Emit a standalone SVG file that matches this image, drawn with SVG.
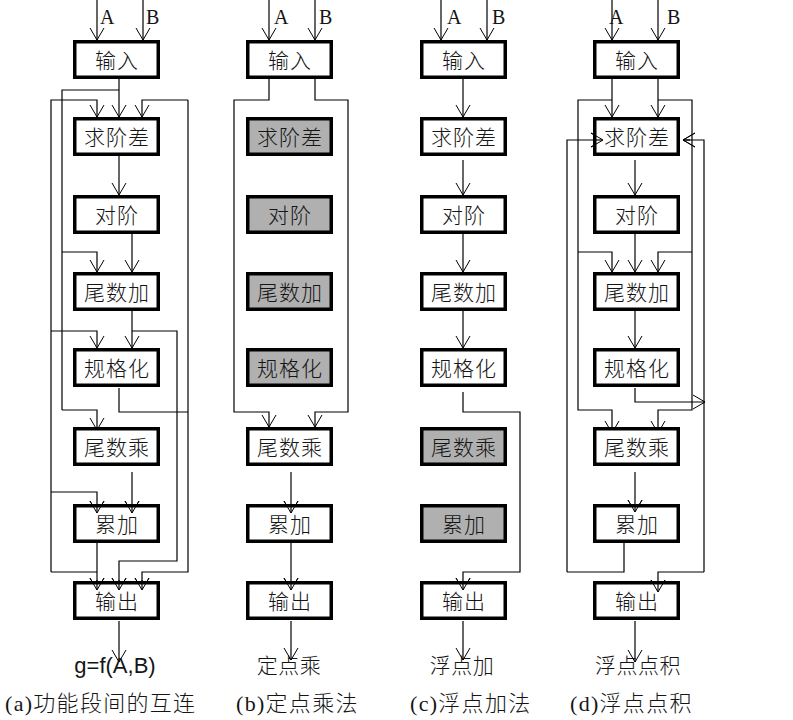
<svg xmlns="http://www.w3.org/2000/svg" width="793" height="720" viewBox="0 0 793 720">
<defs>
<marker id="ar" viewBox="-14 -9 16 18" markerWidth="16" markerHeight="18" refX="0" refY="0" orient="auto" markerUnits="userSpaceOnUse">
<path d="M-12,-7 L0,0 L-12,7" fill="none" stroke="#000" stroke-width="1"/>
</marker>
<style>
.box{fill:#fff;stroke:#000;stroke-width:3.5}
.g{fill:#b0b0b0}
.t{font-family:"Noto Sans CJK SC","Noto Sans",sans-serif;font-size:21px;font-weight:300;fill:#151515;text-anchor:middle;letter-spacing:1px}
.ab{font-family:"Liberation Serif",serif;font-size:20px;fill:#151515}
.cap{font-family:"Liberation Serif","Noto Sans CJK SC",serif;font-size:22px;font-weight:300;fill:#151515;letter-spacing:1.3px}
.out{font-family:"Noto Sans CJK SC",sans-serif;font-size:21px;font-weight:300;fill:#151515;text-anchor:middle;letter-spacing:0.5px}
.w{fill:none;stroke:#000;stroke-width:1.2}
.a{fill:none;stroke:#000;stroke-width:1.2;marker-end:url(#ar)}
</style>
</defs>
<rect width="793" height="720" fill="#fff"/>

<g id="connectors">
<!-- column a -->
<path class="a" d="M97,0 V40"/>
<path class="a" d="M143,0 V40"/>
<path class="a" d="M119,78 V117"/>
<path class="w" d="M119,90 H62 V410"/>
<path class="a" d="M62,410 H97 V430"/>
<path class="a" d="M62,252 H97 V272"/>
<path class="a" d="M51,572 V100 H97 V117"/>
<path class="w" d="M51,572 H97"/>
<path class="a" d="M51,331 H97 V348"/>
<path class="a" d="M51,492 H97 V513"/>
<path class="a" d="M188,100 H142 V117"/>
<path class="a" d="M188,100 V572 H142 V590"/>
<path class="w" d="M119,388 V412 H188"/>
<path class="a" d="M119,156 V195"/>
<path class="a" d="M132,233 V272"/>
<path class="a" d="M132,311 V348"/>
<path class="a" d="M132,331 H177 V561 H119 V590"/>
<path class="a" d="M132,472 V513"/>
<path class="a" d="M97,543 V590"/>
<path class="a" d="M119,621 V662"/>
<!-- column b -->
<path class="a" d="M269,0 V40"/>
<path class="a" d="M315,0 V40"/>
<path class="a" d="M269,78 V100 H234 V412 H269 V427"/>
<path class="a" d="M315,78 V100 H348 V412 H315 V427"/>
<path class="a" d="M291,472 V513"/>
<path class="a" d="M291,543 V590"/>
<path class="a" d="M291,621 V660"/>
<!-- column c -->
<path class="a" d="M441,0 V40"/>
<path class="a" d="M487,0 V40"/>
<path class="a" d="M463,78 V117"/>
<path class="a" d="M463,160 V195"/>
<path class="a" d="M463,233 V272"/>
<path class="a" d="M463,311 V348"/>
<path class="a" d="M463,392 V412 H520 V572 H463 V590"/>
<path class="a" d="M463,621 V660"/>
<!-- column d -->
<path class="a" d="M612,0 V40"/>
<path class="a" d="M658,0 V40"/>
<path class="a" d="M612,78 V117"/>
<path class="a" d="M658,78 V117"/>
<path class="a" d="M612,100 H578 V410 H612 V433"/>
<path class="a" d="M578,252 H612 V272"/>
<path class="a" d="M658,100 H692 V410 H658 V433"/>
<path class="a" d="M692,252 H658 V272"/>
<path class="a" d="M567,572 V140 H603"/>
<path class="a" d="M704,572 V140 H683"/>
<path class="w" d="M624,543 V572 H567"/>
<path class="a" d="M704,572 H658 V592"/>
<path class="a" d="M635,388 V402 H705"/>
<path class="a" d="M635,160 V195"/>
<path class="a" d="M635,233 V272"/>
<path class="a" d="M635,311 V348"/>
<path class="a" d="M635,472 V512"/>
<path class="a" d="M635,621 V662"/>
</g>

<g id="labels-ab">
<text class="ab" x="100" y="24">A</text><text class="ab" x="146" y="24">B</text>
<text class="ab" x="274" y="24">A</text><text class="ab" x="319" y="24">B</text>
<text class="ab" x="447" y="24">A</text><text class="ab" x="492" y="24">B</text>
<text class="ab" x="609" y="24">A</text><text class="ab" x="667" y="24">B</text>
</g>

<!-- column a nodes -->
<g id="a-in"><rect class="box" x="74.75" y="41.75" width="83.5" height="35.5"/><text class="t" x="117" y="67.5">输入</text></g>
<g id="a-exp"><rect class="box" x="74.75" y="118.75" width="83.5" height="35.5"/><text class="t" x="117" y="144.5">求阶差</text></g>
<g id="a-align"><rect class="box" x="74.75" y="196.75" width="83.5" height="35.5"/><text class="t" x="117" y="222.5">对阶</text></g>
<g id="a-add"><rect class="box" x="74.75" y="273.75" width="83.5" height="35.5"/><text class="t" x="117" y="299.5">尾数加</text></g>
<g id="a-norm"><rect class="box" x="74.75" y="349.75" width="83.5" height="35.5"/><text class="t" x="117" y="375.5">规格化</text></g>
<g id="a-mul"><rect class="box" x="74.75" y="428.75" width="83.5" height="35.5"/><text class="t" x="117" y="454.5">尾数乘</text></g>
<g id="a-acc"><rect class="box" x="74.75" y="505.75" width="83.5" height="35.5"/><text class="t" x="117" y="531.5">累加</text></g>
<g id="a-out"><rect class="box" x="74.75" y="582.75" width="83.5" height="35.5"/><text class="t" x="117" y="608.5">输出</text></g>
<text x="115" y="673" style="font-family:'Liberation Sans',sans-serif;font-size:22px;fill:#151515;text-anchor:middle">g=f(A,B)</text>
<text class="cap" x="5" y="711">(a)功能段间的互连</text>

<!-- column b nodes -->
<g id="b-in"><rect class="box" x="247.75" y="41.75" width="83.5" height="35.5"/><text class="t" x="290" y="67.5">输入</text></g>
<g id="b-exp"><rect class="box g" x="247.75" y="118.75" width="83.5" height="35.5"/><text class="t" x="290" y="144.5">求阶差</text></g>
<g id="b-align"><rect class="box g" x="247.75" y="196.75" width="83.5" height="35.5"/><text class="t" x="290" y="222.5">对阶</text></g>
<g id="b-add"><rect class="box g" x="247.75" y="273.75" width="83.5" height="35.5"/><text class="t" x="290" y="299.5">尾数加</text></g>
<g id="b-norm"><rect class="box g" x="247.75" y="349.75" width="83.5" height="35.5"/><text class="t" x="290" y="375.5">规格化</text></g>
<g id="b-mul"><rect class="box" x="247.75" y="428.75" width="83.5" height="35.5"/><text class="t" x="290" y="454.5">尾数乘</text></g>
<g id="b-acc"><rect class="box" x="247.75" y="505.75" width="83.5" height="35.5"/><text class="t" x="290" y="531.5">累加</text></g>
<g id="b-out"><rect class="box" x="247.75" y="582.75" width="83.5" height="35.5"/><text class="t" x="290" y="608.5">输出</text></g>
<text class="out" x="289" y="673">定点乘</text>
<text class="cap" x="236" y="711">(b)定点乘法</text>

<!-- column c nodes -->
<g id="c-in"><rect class="box" x="421.75" y="41.75" width="83.5" height="35.5"/><text class="t" x="464" y="67.5">输入</text></g>
<g id="c-exp"><rect class="box" x="421.75" y="118.75" width="83.5" height="35.5"/><text class="t" x="464" y="144.5">求阶差</text></g>
<g id="c-align"><rect class="box" x="421.75" y="196.75" width="83.5" height="35.5"/><text class="t" x="464" y="222.5">对阶</text></g>
<g id="c-add"><rect class="box" x="421.75" y="273.75" width="83.5" height="35.5"/><text class="t" x="464" y="299.5">尾数加</text></g>
<g id="c-norm"><rect class="box" x="421.75" y="349.75" width="83.5" height="35.5"/><text class="t" x="464" y="375.5">规格化</text></g>
<g id="c-mul"><rect class="box g" x="421.75" y="428.75" width="83.5" height="35.5"/><text class="t" x="464" y="454.5">尾数乘</text></g>
<g id="c-acc"><rect class="box g" x="421.75" y="505.75" width="83.5" height="35.5"/><text class="t" x="464" y="531.5">累加</text></g>
<g id="c-out"><rect class="box" x="421.75" y="582.75" width="83.5" height="35.5"/><text class="t" x="464" y="608.5">输出</text></g>
<text class="out" x="462" y="673">浮点加</text>
<text class="cap" x="410" y="711">(c)浮点加法</text>

<!-- column d nodes -->
<g id="d-in"><rect class="box" x="594.75" y="41.75" width="83.5" height="35.5"/><text class="t" x="637" y="67.5">输入</text></g>
<g id="d-exp"><rect class="box" x="594.75" y="118.75" width="83.5" height="35.5"/><text class="t" x="637" y="144.5">求阶差</text></g>
<g id="d-align"><rect class="box" x="594.75" y="196.75" width="83.5" height="35.5"/><text class="t" x="637" y="222.5">对阶</text></g>
<g id="d-add"><rect class="box" x="594.75" y="273.75" width="83.5" height="35.5"/><text class="t" x="637" y="299.5">尾数加</text></g>
<g id="d-norm"><rect class="box" x="594.75" y="349.75" width="83.5" height="35.5"/><text class="t" x="637" y="375.5">规格化</text></g>
<g id="d-mul"><rect class="box" x="594.75" y="428.75" width="83.5" height="35.5"/><text class="t" x="637" y="454.5">尾数乘</text></g>
<g id="d-acc"><rect class="box" x="594.75" y="505.75" width="83.5" height="35.5"/><text class="t" x="637" y="531.5">累加</text></g>
<g id="d-out"><rect class="box" x="594.75" y="582.75" width="83.5" height="35.5"/><text class="t" x="637" y="608.5">输出</text></g>
<text class="out" x="638" y="673">浮点点积</text>
<text class="cap" x="570" y="711">(d)浮点点积</text>

<!-- arrows drawn on top of boxes where they overlap -->
<g id="overlay-arrows">
<path class="a" d="M97,580 V590"/>
<path class="a" d="M119,580 V590"/>
<path class="a" d="M142,580 V590"/>
<path class="a" d="M132,505 V513"/>
<path class="a" d="M97,505 V513"/>
<path class="a" d="M291,505 V513"/>
<path class="a" d="M291,582 V590"/>
<path class="a" d="M463,582 V590"/>
<path class="a" d="M658,584 V592"/>
<path class="a" d="M635,505 V512"/>
<path class="a" d="M595,140 H603"/>
<path class="a" d="M690,140 H683"/>
</g>
</svg>
